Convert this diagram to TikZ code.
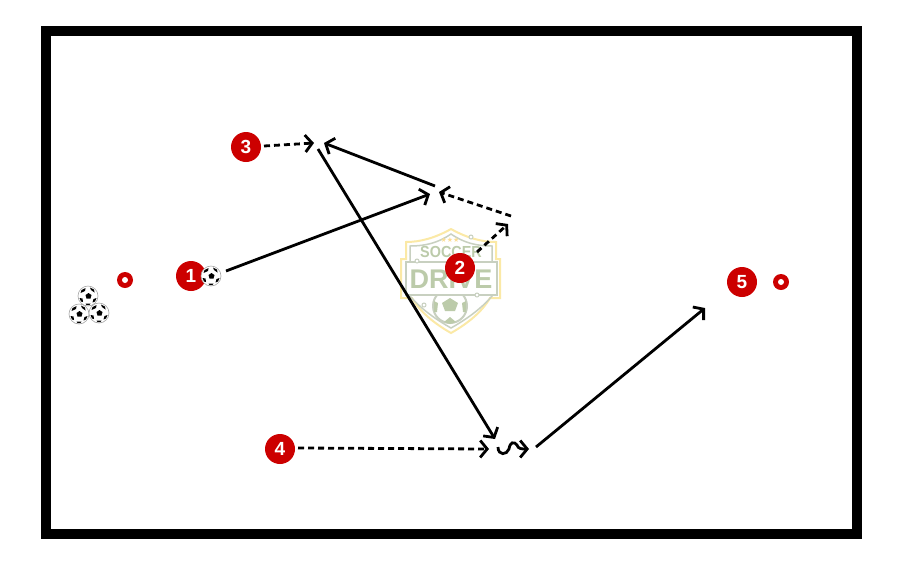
\documentclass[tikz,border=0pt]{standalone}
\usepackage{fontspec}
\setmainfont{Liberation Sans}
\newfontfamily\symfont{DejaVu Sans}
\usepackage{xcolor}
\usetikzlibrary{arrows.meta, positioning, shapes.geometric}

\definecolor{playerred}{HTML}{CC0000}
\definecolor{logogreen}{HTML}{BCCBAA}
\definecolor{logogray}{HTML}{C8D0C0}
\definecolor{logoyellow}{HTML}{FBE9A6}

\begin{document}
\begin{tikzpicture}[
    x=1pt, y=-1pt,
    player/.style={circle, fill=playerred, text=white, inner sep=0pt, minimum size=30pt, font=\fontsize{19}{19}\selectfont\bfseries},
    cone/.style={circle, fill=playerred, inner sep=0pt, minimum size=16pt},
    ball/.style={circle, draw=gray!70, line width=0.6pt, fill=white, inner sep=0pt, minimum size=20pt},
    pass/.style={-{Straight Barb[length=7pt, width=17pt]}, line width=2.8pt, black},
    run/.style={pass, dash pattern=on 6pt off 4pt},
    logotext/.style={text=logogreen, inner sep=0pt}
]
\useasboundingbox (0,0) rectangle (901,563);

% field
\draw[line width=10pt, black] (46,31) rectangle (856.5,534);

% logo
\draw[line width=2pt, draw=logoyellow, fill=white] (451,229) .. controls (435,238) and (420,242) .. (406,242) -- (406,259) -- (401,259) -- (401,298) -- (412,298) .. controls (420,312) and (435,324) .. (451,333) .. controls (467,324) and (482,312) .. (490,298) -- (500,298) -- (500,259) -- (496,259) -- (496,242) .. controls (482,242) and (467,238) .. (451,229) -- cycle;
\draw[line width=1.5pt, draw=logogray] (451,234) .. controls (438,243) and (425,246) .. (410,246) -- (410,296) .. controls (422,310) and (437,320) .. (451,328) .. controls (465,320) and (480,310) .. (492,296) -- (492,246) .. controls (477,246) and (464,243) .. (451,234) -- cycle;
\draw[line width=2pt, draw=logogray, fill=white] (450,306) circle (17pt);
\fill[logogreen] (450,298) -- (458,303) -- (455,311) -- (445,311) -- (442,303) -- cycle;
\fill[logogreen] (434,301) -- (438,303) -- (437,312) -- (434,312) -- cycle;
\fill[logogreen] (466,301) -- (462,303) -- (463,312) -- (466,312) -- cycle;
\fill[logogreen] (444,322) -- (450,317) -- (456,322) -- (450,324) -- cycle;
\draw[line width=1.2pt, draw=logogray, fill=white] (406,262) rectangle (497,295);
\draw[line width=1pt, draw=logogray, fill=white] (471,237) circle (2pt);
\draw[line width=1pt, draw=logogray, fill=white] (417,261) circle (2pt);
\draw[line width=1pt, draw=logogray, fill=white] (477,295) circle (2pt);
\draw[line width=1pt, draw=logogray, fill=white] (424,305) circle (2pt);
\node[logotext, font=\fontsize{7}{7}\selectfont\symfont, text=logoyellow!90!orange] (stars) at (450,240) {★★★};
\node[logotext, font=\fontsize{16}{16}\selectfont\bfseries, xscale=0.9] (soccer) at (451,252) {SOCCER};
\node[logotext, font=\fontsize{27}{27}\selectfont\bfseries] (drive) at (451,279) {DRIVE};

% players
\node[player] (p1) at (191,276) {1};
\node[player] (p2) at (460,268) {2};
\node[player] (p3) at (246,147) {3};
\node[player] (p4) at (280,449) {4};
\node[player] (p5) at (742,282) {5};

% cones
\foreach \nm/\px/\py in {c1/125/280, c2/781/282} {
  \node[cone] (\nm) at (\px,\py) {};
  \fill[white] (\nm.center) circle (3pt);
}

% balls
\foreach \nm/\px/\py in {b1/88/296, b2/79/314, b3/99/313, b4/211/276} {
  \node[ball] (\nm) at (\px,\py) {};
  \fill[black] (\px+0.5,\py-3) -- (\px+3.5,\py-1) -- (\px+2.5,\py+2.5) -- (\px-1.5,\py+2.5) -- (\px-2.5,\py-1) -- cycle;
  \fill[black] (\px+2,\py-8.5) -- (\px+6,\py-6.5) -- (\px+6.5,\py-3.5) -- (\px+3,\py-6) -- cycle;
  \fill[black] (\px-6.5,\py-6) -- (\px-2.5,\py-8) -- (\px-3,\py-5) -- (\px-7.5,\py-3) -- cycle;
  \fill[black] (\px-8.5,\py+2) -- (\px-5.5,\py+2.5) -- (\px-5,\py+6) -- (\px-7,\py+5.5) -- cycle;
  \fill[black] (\px+8.5,\py+2) -- (\px+5.5,\py+3) -- (\px+4.5,\py+6.5) -- (\px+7,\py+5.5) -- cycle;
  \fill[black] (\px-2.5,\py+7.5) -- (\px+2.5,\py+7.5) -- (\px+1.5,\py+9) -- (\px-1.5,\py+9) -- cycle;
}

% end points
\coordinate (a1) at (226,271);
\coordinate (a2) at (430,194);
\coordinate (a3) at (435,186);
\coordinate (a4) at (324,143);
\coordinate (a5) at (264,146);
\coordinate (a6) at (314,143);
\coordinate (a7) at (511,216);
\coordinate (a8) at (439,192);
\coordinate (a9) at (477,252);
\coordinate (a10) at (508,224);
\coordinate (a11) at (318,149);
\coordinate (a12) at (495,439);
\coordinate (a13) at (298,448);
\coordinate (a14) at (489,449);
\coordinate (a15) at (498,447);
\coordinate (a16) at (529,449);
\coordinate (a17) at (536,447);
\coordinate (a18) at (705,308);

% movement
\draw[pass] (a1) -- (a2);
\draw[pass] (a3) -- (a4);
\draw[run] (a5) -- (a6);
\draw[run] (a7) -- (a8);
\draw[run] (a9) -- (a10);
\draw[pass] (a11) -- (a12);
\draw[run] (a13) -- (a14);
\draw[pass] (a15) .. controls (498,456) and (507,455) .. (509,449) .. controls (510,442) and (514,441) .. (517,445) .. controls (518,449) and (522,449) .. (a16);
\draw[pass] (a17) -- (a18);

\end{tikzpicture}
\end{document}
